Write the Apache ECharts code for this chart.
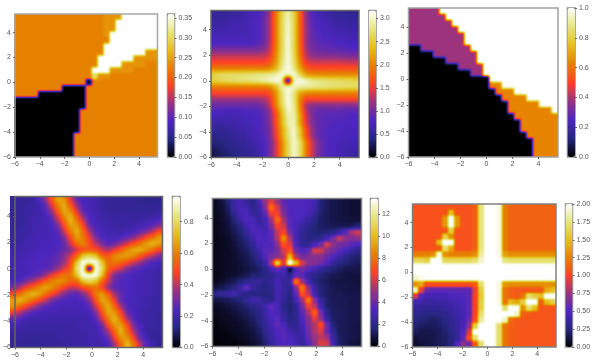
<!DOCTYPE html>
<html>
<head>
<meta charset="utf-8">
<script src="https://cdn.jsdelivr.net/npm/echarts@6/dist/echarts.min.js"></script>
<style>
  html, body { margin: 0; background: #fff; }
  #axes { position: absolute; left: 0; top: 0; width: 600px; height: 364px; }
  .heat { position: absolute; }
</style>
</head>
<body>
<svg width="0" height="0" style="position:absolute" id="filters"></svg>
<div id="axes"></div>
<script>
// rows run top to bottom (y = 5.5 ... -6), columns left to right (x = -6 ... 5.5)
const grid1 = [
  [.226,.226,.226,.226,.226,.226,.226,.226,.226,.226,.226,.226,.226,.226,.226,.238,.238,.238,.36,.36,.36,.36,.36,.36],
  [.226,.226,.226,.226,.226,.226,.226,.226,.226,.226,.226,.226,.226,.226,.226,.238,.238,.36,.36,.36,.36,.36,.36,.36],
  [.226,.226,.226,.226,.226,.226,.226,.226,.226,.226,.226,.226,.226,.226,.226,.238,.238,.36,.36,.36,.36,.36,.36,.36],
  [.226,.226,.226,.226,.226,.226,.226,.226,.226,.226,.226,.226,.226,.226,.226,.238,.36,.36,.36,.36,.36,.36,.36,.36],
  [.226,.226,.226,.226,.226,.226,.226,.226,.226,.226,.226,.226,.226,.226,.226,.226,.36,.36,.36,.36,.36,.36,.36,.36],
  [.226,.226,.226,.226,.226,.226,.226,.226,.226,.226,.226,.226,.226,.226,.226,.36,.36,.36,.36,.36,.36,.36,.36,.36],
  [.226,.226,.226,.226,.226,.226,.226,.226,.226,.226,.226,.226,.226,.226,.226,.36,.36,.36,.36,.36,.36,.36,.238,.238],
  [.226,.226,.226,.226,.226,.226,.226,.226,.226,.226,.226,.226,.226,.226,.36,.36,.36,.36,.36,.36,.238,.238,.238,.238],
  [.226,.226,.226,.226,.226,.226,.226,.226,.226,.226,.226,.226,.226,.226,.36,.36,.36,.36,.238,.238,.238,.238,.226,.226],
  [.226,.226,.226,.226,.226,.226,.226,.226,.226,.226,.226,.226,.226,.36,.36,.36,.238,.238,.238,.238,.226,.226,.226,.226],
  [.226,.226,.226,.226,.226,.226,.226,.226,.226,.226,.226,.226,.226,.3,.238,.238,.226,.226,.226,.226,.226,.226,.226,.226],
  [.226,.226,.226,.226,.226,.226,.226,.226,.226,.226,.226,.226,0,.226,.226,.226,.226,.226,.226,.226,.226,.226,.226,.226],
  [.226,.226,.226,.226,.226,.226,.226,.226,0,0,0,0,.226,.226,.226,.226,.226,.226,.226,.226,.226,.226,.226,.226],
  [.226,.226,.226,.226,0,0,0,0,0,0,0,0,.226,.226,.226,.226,.226,.226,.226,.226,.226,.226,.226,.226],
  [0,0,0,0,0,0,0,0,0,0,0,0,.226,.226,.226,.226,.226,.226,.226,.226,.226,.226,.226,.226],
  [0,0,0,0,0,0,0,0,0,0,0,0,.226,.226,.226,.226,.226,.226,.226,.226,.226,.226,.226,.226],
  [0,0,0,0,0,0,0,0,0,0,0,.226,.226,.226,.226,.226,.226,.226,.226,.226,.226,.226,.226,.226],
  [0,0,0,0,0,0,0,0,0,0,0,.226,.226,.226,.226,.226,.226,.226,.226,.226,.226,.226,.226,.226],
  [0,0,0,0,0,0,0,0,0,0,0,.226,.226,.226,.226,.226,.226,.226,.226,.226,.226,.226,.226,.226],
  [0,0,0,0,0,0,0,0,0,0,0,.226,.226,.226,.226,.226,.226,.226,.226,.226,.226,.226,.226,.226],
  [0,0,0,0,0,0,0,0,0,0,.226,.226,.226,.226,.226,.226,.226,.226,.226,.226,.226,.226,.226,.226],
  [0,0,0,0,0,0,0,0,0,0,.226,.226,.226,.226,.226,.226,.226,.226,.226,.226,.226,.226,.226,.226],
  [0,0,0,0,0,0,0,0,0,0,.226,.226,.226,.226,.226,.226,.226,.226,.226,.226,.226,.226,.226,.226],
  [0,0,0,0,0,0,0,0,0,0,.226,.226,.226,.226,.226,.226,.226,.226,.226,.226,.226,.226,.226,.226]
];
const grid2 = [
  [.55,.55,.55,.6,.6,.65,.7,.75,.85,1.15,1.9,2.55,2.95,2.55,1.8,1.1,.8,.7,.65,.6,.55,.55,.5,.5],
  [.6,.6,.6,.65,.65,.7,.75,.8,.9,1.2,1.9,2.6,3,2.6,1.8,1.1,.85,.75,.7,.65,.6,.6,.55,.55],
  [.65,.65,.65,.7,.7,.7,.75,.8,.9,1.2,1.9,2.6,3.05,2.6,1.8,1.15,.85,.8,.75,.7,.65,.65,.6,.6],
  [.7,.7,.7,.7,.7,.7,.75,.8,.9,1.2,1.9,2.6,3.05,2.6,1.8,1.15,.9,.8,.75,.75,.7,.7,.65,.65],
  [.75,.75,.75,.75,.75,.75,.75,.8,.9,1.2,1.9,2.6,3.1,2.6,1.8,1.15,.9,.85,.8,.8,.75,.75,.7,.7],
  [.8,.8,.8,.8,.8,.8,.8,.85,.95,1.25,1.9,2.6,3.1,2.6,1.8,1.15,.95,.9,.85,.85,.8,.8,.75,.75],
  [1.05,1.05,1.05,1.05,1.05,1.05,1.05,1.05,1.1,1.3,1.95,2.6,3.1,2.6,1.85,1.2,1,.95,.95,.9,.9,.9,.85,.85],
  [1.35,1.35,1.35,1.35,1.35,1.35,1.35,1.35,1.35,1.5,2,2.65,3.1,2.65,1.9,1.3,1.15,1.1,1.1,1.1,1.1,1.05,1.05,1.05],
  [1.6,1.6,1.6,1.6,1.6,1.6,1.6,1.6,1.6,1.7,2.1,2.7,3.1,2.7,2,1.5,1.4,1.4,1.4,1.4,1.4,1.4,1.35,1.35],
  [1.95,1.95,1.95,1.95,1.95,1.95,1.95,1.95,1.95,2,2.3,2.8,3.15,2.8,2.2,1.75,1.65,1.65,1.65,1.65,1.65,1.65,1.65,1.65],
  [2.6,2.65,2.7,2.7,2.7,2.75,2.75,2.8,2.8,2.85,2.9,3.1,3,3.1,2.6,2.15,2.05,2.05,2.05,2.05,2.05,2.05,2.05,2.05],
  [2.55,2.6,2.65,2.7,2.75,2.75,2.8,2.85,2.9,3,3.15,3,0,3,3.15,3,2.85,2.8,2.75,2.7,2.7,2.65,2.65,2.6],
  [1.95,1.95,1.95,1.95,1.95,1.95,1.95,1.95,1.95,2,2.3,2.9,3.1,3,2.9,2.9,2.85,2.8,2.8,2.75,2.75,2.7,2.7,2.7],
  [1.6,1.6,1.6,1.6,1.6,1.6,1.6,1.6,1.6,1.65,2.05,2.7,3.1,2.75,2.2,2.05,2,2,2,2,2,2,2,2],
  [1.2,1.2,1.2,1.2,1.2,1.2,1.2,1.2,1.25,1.4,2,2.65,3.1,2.8,2,1.6,1.6,1.6,1.6,1.6,1.6,1.6,1.6,1.6],
  [.95,.95,.95,.95,.95,.95,.95,.95,1.05,1.3,1.95,2.6,3.1,2.85,2,1.2,1.1,1.1,1.1,1.1,1.1,1.1,1.1,1.1],
  [.8,.8,.75,.75,.75,.8,.8,.8,.9,1.1,1.7,2.4,3,2.9,2.1,1.3,1,.9,.9,.9,.9,.85,.85,.85],
  [.7,.7,.7,.7,.7,.75,.75,.8,.85,1.05,1.6,2.3,2.9,2.95,2.2,1.4,1.05,.9,.85,.85,.85,.85,.8,.8],
  [.65,.6,.65,.65,.7,.7,.75,.8,.85,1.05,1.6,2.3,2.9,2.95,2.2,1.4,1.05,.9,.85,.85,.8,.8,.8,.8],
  [.55,.55,.55,.6,.65,.65,.7,.75,.85,1,1.5,2.15,2.75,3.05,2.45,1.65,1.15,.9,.85,.8,.8,.8,.75,.75],
  [.45,.5,.5,.55,.6,.6,.7,.75,.8,1,1.5,2.15,2.75,3.05,2.45,1.65,1.15,.9,.85,.8,.8,.75,.75,.75],
  [.4,.4,.45,.5,.55,.55,.65,.7,.8,.95,1.35,2,2.6,3.05,2.7,1.95,1.35,1,.85,.8,.75,.75,.7,.7],
  [.3,.35,.4,.45,.5,.55,.6,.65,.75,.95,1.35,2,2.6,3.05,2.7,1.95,1.35,1,.85,.8,.75,.7,.7,.65],
  [.25,.3,.35,.4,.45,.5,.55,.6,.75,.95,1.35,2,2.6,3.05,2.7,1.95,1.35,1,.85,.8,.75,.7,.65,.6]
];
const grid3 = [
  [.38,.38,.38,.38,.38,1,1,1,1,1,1,1,1,1,1,1,1,1,1,1,1,1,1,1],
  [.38,.38,.38,.38,.38,.38,1,1,1,1,1,1,1,1,1,1,1,1,1,1,1,1,1,1],
  [.38,.38,.38,.38,.38,.38,.38,1,1,1,1,1,1,1,1,1,1,1,1,1,1,1,1,1],
  [.38,.38,.38,.38,.38,.38,.38,.38,1,1,1,1,1,1,1,1,1,1,1,1,1,1,1,1],
  [.38,.38,.38,.38,.38,.38,.38,.38,.38,1,1,1,1,1,1,1,1,1,1,1,1,1,1,1],
  [.38,.38,.38,.38,.38,.38,.38,.38,.38,1,1,1,1,1,1,1,1,1,1,1,1,1,1,1],
  [0,0,.38,.38,.38,.38,.38,.38,.38,.38,1,1,1,1,1,1,1,1,1,1,1,1,1,1],
  [0,0,0,0,.38,.38,.38,.38,.38,.38,.38,1,1,1,1,1,1,1,1,1,1,1,1,1],
  [0,0,0,0,0,0,.38,.38,.38,.38,.38,1,1,1,1,1,1,1,1,1,1,1,1,1],
  [0,0,0,0,0,0,0,0,.38,.38,.38,.38,1,1,1,1,1,1,1,1,1,1,1,1],
  [0,0,0,0,0,0,0,0,0,0,.38,.38,1,1,1,1,1,1,1,1,1,1,1,1],
  [0,0,0,0,0,0,0,0,0,0,0,0,0,1,1,1,1,1,1,1,1,1,1,1],
  [0,0,0,0,0,0,0,0,0,0,0,0,0,.63,.63,1,1,1,1,1,1,1,1,1],
  [0,0,0,0,0,0,0,0,0,0,0,0,0,0,.63,.63,.63,1,1,1,1,1,1,1],
  [0,0,0,0,0,0,0,0,0,0,0,0,0,0,0,.63,.63,.63,.63,1,1,1,1,1],
  [0,0,0,0,0,0,0,0,0,0,0,0,0,0,0,0,.63,.63,.63,.63,.63,1,1,1],
  [0,0,0,0,0,0,0,0,0,0,0,0,0,0,0,0,.63,.63,.63,.63,.63,.63,.63,1],
  [0,0,0,0,0,0,0,0,0,0,0,0,0,0,0,0,0,.63,.63,.63,.63,.63,.63,.63],
  [0,0,0,0,0,0,0,0,0,0,0,0,0,0,0,0,0,0,.63,.63,.63,.63,.63,.63],
  [0,0,0,0,0,0,0,0,0,0,0,0,0,0,0,0,0,0,.63,.63,.63,.63,.63,.63],
  [0,0,0,0,0,0,0,0,0,0,0,0,0,0,0,0,0,0,0,.63,.63,.63,.63,.63],
  [0,0,0,0,0,0,0,0,0,0,0,0,0,0,0,0,0,0,0,0,.63,.63,.63,.63],
  [0,0,0,0,0,0,0,0,0,0,0,0,0,0,0,0,0,0,0,0,.63,.63,.63,.63],
  [0,0,0,0,0,0,0,0,0,0,0,0,0,0,0,0,0,0,0,0,.63,.63,.63,.63]
];
const grid4 = [
  [.17,.17,.17,.18,.23,.33,.52,.68,.64,.45,.27,.23,.22,.2,.18,.17,.16,.16,.16,.16,.15,.15,.15,.15],
  [.17,.17,.18,.19,.2,.26,.42,.6,.7,.54,.36,.24,.22,.2,.18,.17,.17,.16,.16,.16,.16,.16,.16,.16],
  [.17,.17,.18,.19,.2,.23,.33,.52,.68,.64,.45,.27,.23,.21,.19,.18,.17,.17,.17,.17,.17,.17,.17,.18],
  [.17,.17,.18,.2,.2,.22,.26,.42,.6,.72,.56,.38,.24,.21,.2,.19,.18,.18,.18,.18,.18,.19,.2,.23],
  [.17,.17,.19,.2,.21,.22,.23,.32,.5,.68,.64,.48,.28,.23,.21,.2,.19,.19,.19,.2,.21,.23,.25,.3],
  [.17,.18,.19,.2,.21,.22,.23,.26,.42,.6,.7,.56,.38,.25,.22,.21,.2,.2,.21,.22,.26,.3,.38,.48],
  [.18,.18,.2,.21,.22,.22,.23,.24,.32,.5,.66,.6,.46,.3,.24,.22,.22,.23,.27,.32,.4,.48,.56,.66],
  [.18,.19,.2,.21,.22,.23,.23,.24,.27,.42,.58,.62,.5,.4,.3,.25,.28,.35,.42,.5,.58,.66,.72,.66],
  [.2,.2,.21,.22,.23,.23,.24,.25,.28,.33,.42,.5,.52,.5,.42,.38,.46,.53,.62,.68,.7,.64,.56,.48],
  [.2,.21,.22,.23,.24,.24,.25,.27,.33,.42,.55,.74,.8,.74,.55,.53,.62,.66,.66,.62,.53,.44,.38,.3],
  [.21,.22,.23,.24,.24,.25,.26,.28,.35,.48,.74,.96,.96,.96,.74,.55,.6,.56,.5,.42,.36,.28,.25,.22],
  [.21,.22,.23,.24,.25,.25,.27,.35,.44,.52,.82,.96,0,.96,.82,.55,.48,.42,.32,.27,.25,.22,.21,.2],
  [.2,.21,.23,.25,.27,.35,.44,.52,.58,.58,.74,.96,.96,.96,.74,.45,.31,.26,.24,.23,.22,.21,.2,.19],
  [.23,.25,.3,.37,.44,.53,.6,.64,.62,.55,.55,.74,.8,.74,.55,.42,.28,.25,.24,.23,.22,.21,.2,.19],
  [.31,.38,.48,.54,.62,.68,.64,.56,.48,.42,.42,.5,.54,.58,.48,.33,.26,.24,.24,.23,.22,.21,.2,.19],
  [.5,.56,.66,.72,.68,.58,.5,.42,.32,.27,.25,.33,.42,.6,.66,.53,.36,.27,.24,.23,.22,.21,.2,.19],
  [.66,.72,.66,.58,.5,.42,.32,.26,.24,.23,.23,.24,.33,.52,.68,.62,.45,.27,.23,.22,.21,.2,.19,.18],
  [.64,.56,.48,.4,.32,.26,.24,.23,.22,.22,.22,.23,.26,.42,.6,.7,.54,.36,.24,.22,.21,.2,.19,.18],
  [.46,.38,.3,.25,.23,.22,.22,.21,.21,.21,.21,.21,.22,.32,.5,.68,.64,.48,.28,.23,.2,.19,.18,.18],
  [.28,.25,.21,.2,.2,.2,.2,.2,.2,.2,.2,.2,.21,.25,.42,.6,.72,.56,.38,.25,.2,.19,.18,.17],
  [.21,.2,.19,.19,.19,.19,.19,.19,.19,.19,.2,.2,.2,.22,.3,.5,.66,.66,.5,.3,.23,.19,.18,.17],
  [.19,.19,.18,.18,.18,.18,.18,.18,.19,.19,.19,.2,.2,.21,.25,.38,.56,.72,.56,.38,.25,.19,.17,.17],
  [.18,.17,.17,.17,.17,.17,.17,.18,.18,.19,.19,.19,.2,.2,.22,.28,.48,.64,.64,.48,.28,.22,.17,.16],
  [.17,.16,.16,.16,.16,.17,.17,.17,.18,.18,.19,.19,.2,.2,.21,.23,.37,.56,.72,.58,.4,.25,.2,.16]
];
const grid5 = [
  [.5,.8,1.5,2.6,3,2.4,1.8,3,5,6.2,5,3.8,3.4,3.4,3.4,3.2,3,1.6,1.2,1,.9,.8,.7,.7],
  [.5,.7,1.3,2.6,3.2,3,2,2.6,4.4,8,6,4,3.4,3.4,3.4,3.2,2.8,1.5,1.2,1,.9,.8,.7,.7],
  [.4,.6,1.1,2,3,3.3,2.6,2.4,3.6,6.4,6.6,4.4,3.4,3.4,3.3,3.1,2.4,1.4,1.1,1,.9,.8,.7,.7],
  [.4,.6,.9,1.5,2.6,3.3,3.2,2.4,3,5,8,5.2,3.6,3.3,3.1,2.6,1.9,1.3,1.1,1,.9,.9,.8,.8],
  [.3,.5,.8,1.3,1.8,3,3.3,2.8,2.8,4.4,6.6,6,3.6,3.1,2.6,2,1.6,1.3,1.2,1.1,1.1,1.1,1.2,1.6],
  [.3,.5,.7,1.1,1.5,2.2,3.2,3.3,3,3.6,5.8,6.8,4.2,3,2.2,1.8,1.6,1.5,1.6,1.8,2.6,3.6,5.4,6],
  [.3,.4,.6,.9,1.3,1.8,2.8,3.4,3.2,3.6,5.4,9,5.4,3,2.1,1.8,1.8,2,3,4.2,5.8,4.8,4.4,4.8],
  [.3,.4,.5,.8,1.1,1.5,2.2,3.2,3.4,3.4,4.6,7.2,6.2,3.2,2.2,2.2,3,4.2,6.2,4.8,4.2,4,3.6,3.2],
  [.3,.4,.5,.7,1,1.3,1.7,2.6,3.6,3.6,4.2,6,7.2,4,3.4,3.8,6.2,6,4.6,4.2,3.6,3.2,2.4,2],
  [.3,.4,.5,.6,.9,1.1,1.5,2.2,3.4,4.2,4.6,5.4,10,5.4,4.2,4.4,4.6,4.6,4,3.4,2.6,2,1.6,1.4],
  [.3,.4,.5,.6,.8,1,1.3,1.7,2.6,5.2,11,6,13.4,10,6,4.6,4.6,4.2,3.4,2.4,1.8,1.5,1.3,1.2],
  [.3,.4,.5,.6,.7,.9,1.1,1.4,1.9,3,3.8,3.4,.6,3.4,4.2,3.6,3,2.3,1.8,1.5,1.3,1.1,1,1],
  [.3,.4,.6,.7,.9,1.1,1.5,1.6,1.8,2,2.6,2.8,2,3.6,3.6,2.4,2,1.6,1.3,1.1,1,.9,.8,.8],
  [.4,.6,.9,1.2,1.6,2,2.2,2.4,2,2.2,3.2,2.4,2.6,8.2,5,3,1.8,1.4,1.2,1,.9,.9,.9,.8],
  [.9,1.1,1.4,1.8,2.6,4,2.6,2,1.8,2,3,2.6,2,4.6,8.4,4.8,2.6,1.6,1.3,1.1,1,1,.9,.9],
  [2,2.2,2.4,3,2.2,1.8,1.8,1.8,1.7,1.8,3,2.4,1.8,3.6,7.2,5.6,2.8,1.6,1.3,1.1,1.1,1,1,1],
  [.9,1,1.2,1.4,1.6,2.2,2.8,2.8,2,1.9,3,2.4,1.6,3,5,8.4,4.6,2.4,1.4,1.2,1.1,1.1,1,1],
  [.5,.6,.8,1,1.2,1.5,1.9,2.2,2.8,3.8,3.2,2,1.5,2.1,4.2,6.6,5.6,2.8,1.4,1.2,1.1,1.1,1,1],
  [.4,.5,.6,.8,1,1.2,1.5,1.9,2.6,3.4,3.2,2.2,1.6,2.1,3.6,5.4,7.6,4.2,1.8,1.3,1.2,1.1,1,1],
  [.3,.4,.5,.6,.8,1,1.3,1.7,2.4,3.2,3.6,2.6,1.8,2.1,3.4,4.6,6.4,4.8,2.4,1.3,1.2,1.1,1,1],
  [.2,.3,.4,.5,.6,.8,1.1,1.5,2.2,3,3.8,3.2,2.2,2.2,3,4.4,5.4,7,4,1.6,1.2,1.1,1,.9],
  [.2,.2,.3,.4,.5,.7,.9,1.3,2,2.8,3.4,3.6,2.8,2.4,2.8,4.2,5.4,6.2,4,2,1.2,1.1,1,.9],
  [.1,.2,.2,.3,.4,.5,.8,1.1,1.7,2.6,3.2,3.6,3.2,2.8,2.6,4,5,5.6,5,2.4,1.3,1.1,1,.9],
  [.1,.1,.2,.2,.3,.4,.6,.9,1.4,2.4,3,3.4,3.4,3,2.4,3.4,4.8,6.2,6,2.8,1.4,1.1,.9,.8]
];
const grid6 = [
  [1.07,1.07,1.07,1.07,1.07,1.07,1.07,1.07,1.07,1.07,1.12,1.75,2,2,1.95,1.25,1.14,1.14,1.14,1.14,1.14,1.14,1.14,1.14],
  [1.07,1.07,1.07,1.07,1.07,1.07,1.5,1.07,1.07,1.07,1.12,1.75,2,2,1.95,1.25,1.14,1.14,1.14,1.14,1.14,1.14,1.14,1.14],
  [1.07,1.07,1.07,1.07,1.07,1.35,2,1.35,1.07,1.07,1.12,1.75,2,2,1.95,1.25,1.14,1.14,1.14,1.14,1.14,1.14,1.14,1.14],
  [1.07,1.07,1.07,1.07,1.07,1.35,2,1.35,1.07,1.07,1.12,1.75,2,2,1.95,1.25,1.14,1.14,1.14,1.14,1.14,1.14,1.14,1.14],
  [1.07,1.07,1.07,1.07,1.07,1.07,1.6,1.07,1.07,1.07,1.12,1.75,2,2,1.95,1.25,1.14,1.14,1.14,1.14,1.14,1.14,1.14,1.14],
  [1.07,1.07,1.07,1.07,1.07,1.6,1.3,1.07,1.07,1.07,1.12,1.75,2,2,1.95,1.25,1.14,1.14,1.14,1.14,1.14,1.14,1.14,1.14],
  [1.07,1.07,1.07,1.07,1.5,2,2,1.07,1.07,1.07,1.12,1.75,2,2,1.95,1.25,1.14,1.14,1.14,1.14,1.14,1.14,1.14,1.14],
  [1.07,1.07,1.07,1.07,1.07,1.7,1.4,1.07,1.07,1.07,1.14,1.75,2,2,1.95,1.25,1.14,1.14,1.14,1.14,1.14,1.14,1.14,1.14],
  [1.25,1.25,1.25,1.3,1.95,1.3,1.25,1.25,1.25,1.25,1.3,1.8,2,2,1.95,1.38,1.3,1.3,1.3,1.3,1.3,1.3,1.3,1.3],
  [1.65,1.65,1.6,2,2,1.65,1.65,1.65,1.65,1.65,1.7,1.9,2,2,2,1.75,1.7,1.7,1.7,1.7,1.7,1.7,1.7,1.7],
  [2,2,2,2,2,2,2,2,2,2,2,2,2,2,2,2,2,2,2,2,2,2,2,2],
  [2,2,2,2,2,2,2,2,2,2,2,2,2,2,2,2,2,2,2,2,2,2,2,2],
  [1.9,1.95,2,2,2,2,2,2,2,2,2,2,2,2,2,2,2,2,2,2,2,2,2,2],
  [1.3,1.4,1.05,1.05,1.05,1.05,1.05,1.05,1.05,1.05,1.1,1.7,2,2,1.95,1.35,1.3,1.3,1.3,1.3,1.3,1.3,1.3,1.3],
  [1.9,.95,.6,.55,.55,.55,.55,.55,.55,.55,.95,1.6,2,2,1.95,1.2,1.12,1.1,1.08,1.08,1.08,1.08,1.4,1.5],
  [.9,.55,.45,.45,.45,.45,.5,.5,.5,.55,1,1.55,2,2,1.95,1.2,1.12,1.1,1.2,1.7,1.6,1.5,2,2],
  [.45,.4,.38,.38,.4,.4,.42,.45,.48,.55,1,1.6,2,2,1.95,1.2,1.5,1.4,1.6,2,2,1.1,1.5,1.6],
  [.35,.33,.32,.32,.33,.35,.38,.42,.46,.55,1,1.6,2,2,2,1.7,2,2,1.3,1.7,1.5,1.08,1.08,1.08],
  [.3,.28,.26,.26,.28,.3,.35,.4,.45,.55,1,1.7,2,2,2,2,2,1.9,1.12,1.1,1.08,1.08,1.08,1.08],
  [.26,.24,.22,.2,.22,.26,.32,.38,.45,.6,1.05,1.8,2,2,2,1.9,1.15,1.1,1.08,1.08,1.08,1.08,1.08,1.08],
  [.22,.2,.18,.18,.2,.24,.3,.36,.45,.7,1.6,2,2,2,1.7,1.2,1.12,1.1,1.08,1.08,1.08,1.08,1.08,1.08],
  [.18,.16,.15,.16,.18,.22,.28,.35,.5,.9,2,2,2,2,1.7,1.2,1.12,1.1,1.08,1.08,1.08,1.08,1.08,1.08],
  [.12,.13,.14,.15,.18,.2,.26,.34,.55,1.05,1.7,2,2,2,1.7,1.2,1.12,1.1,1.08,1.08,1.08,1.08,1.08,1.08],
  [.1,.12,.13,.15,.17,.2,.25,.5,.7,.6,1.1,1.7,2,2,1.7,1.2,1.12,1.1,1.08,1.08,1.08,1.08,1.08,1.08]
];
const grids = [grid1, grid2, grid3, grid4, grid5, grid6];
const vmax = [0.36, 3.17, 1, 0.96, 13.4, 2];

const xTicks = [-6, -4, -2, 0, 2, 4];
const yTicks = [-6, -4, -2, 0, 2, 4];
const barTicks = [
  [0, .05, .1, .15, .2, .25, .3, .35],
  [0, .5, 1, 1.5, 2, 2.5, 3],
  [0, .2, .4, .6, .8, 1],
  [0, .2, .4, .6, .8],
  [0, 2, 4, 6, 8, 10, 12],
  [0, .25, .5, .75, 1, 1.25, 1.5, 1.75, 2]
];
const barDigits = [2, 1, 1, 1, 0, 2];

// plot left, top, right, bottom, colour bar left, colour bar right, frame colour
const boxes = [
  [14.5, 14, 157.5, 157, 167.5, 174.5, '#a6a6a6'],
  [211, 10.5, 359, 157.5, 369, 376, '#666666'],
  [408.5, 8, 558, 157, 567.5, 575, '#a0a0a0'],
  [10.5, 196.5, 162.5, 347.5, 172.5, 180, '#666666'],
  [212.5, 198.5, 361.5, 346.5, 370.5, 378, '#808080'],
  [412.5, 204, 556, 347, 565.5, 572.5, '#808080']
];
// softness of each panel's image, px
const softness = [1.3, 1.9, 1.3, 1.9, 1.6, 1.3];

// CMRmap
const cmrStops = ['#000000', '#262680', '#4d26bf', '#993380', '#ff4026', '#e68000', '#e6bf1a', '#e6e680', '#ffffff'];
const table = k => cmrStops.map(c => (parseInt(c.substr(1 + k * 2, 2), 16) / 255).toFixed(3)).join(' ');
document.getElementById('filters').innerHTML = softness.map((s, i) =>
  `<filter id="cm${i}" color-interpolation-filters="sRGB" x="0" y="0" width="100%" height="100%">
     <feGaussianBlur stdDeviation="${s}"/>
     <feComponentTransfer>
       <feFuncR type="table" tableValues="${table(0)}"/>
       <feFuncG type="table" tableValues="${table(1)}"/>
       <feFuncB type="table" tableValues="${table(2)}"/>
     </feComponentTransfer>
   </filter>`).join('');

const cells = 24;
const pad = 3; // repeated cells round the image, so the blur does not fade at the frame
const axes = { animation: false, grid: [], xAxis: [], yAxis: [], visualMap: [] };
const axisFont = { fontFamily: 'Liberation Sans', fontSize: 7, color: '#555', margin: 4 };

boxes.forEach((b, i) => {
  const w = b[2] - b[0], h = b[3] - b[1];
  const cw = w / cells, ch = h / cells;

  const dl = Math.floor(b[0] - pad * cw), dt = Math.floor(b[1] - pad * ch);
  const dw = Math.ceil(b[2] + pad * cw) - dl, dh = Math.ceil(b[3] + pad * ch) - dt;
  const div = document.createElement('div');
  div.className = 'heat';
  div.style.cssText = `left:${dl}px;top:${dt}px;width:${dw}px;height:${dh}px;filter:url(#cm${i});` +
    `clip-path:inset(${b[1] - dt}px ${dl + dw - b[2]}px ${dt + dh - b[3]}px ${b[0] - dl}px)`;
  document.body.insertBefore(div, document.getElementById('axes'));

  const cats = [];
  for (let k = 0; k < cells + 2 * pad; k++) cats.push(k);
  const data = [];
  cats.forEach(r => cats.forEach(c => {
    const rr = Math.min(cells - 1, Math.max(0, r - pad));
    const cc = Math.min(cells - 1, Math.max(0, c - pad));
    data.push([c, r, grids[i][rr][cc]]);
  }));
  // drawn three times over: one pass leaves pale antialiased seams between the cells
  const layer = { type: 'heatmap', data: data, silent: true, progressive: 0 };
  echarts.init(div).setOption({
    animation: false,
    backgroundColor: '#fff',
    grid: { left: b[0] - dl - pad * cw, top: b[1] - dt - pad * ch, width: w + 2 * pad * cw, height: h + 2 * pad * ch },
    xAxis: { type: 'category', data: cats, show: false },
    yAxis: { type: 'category', data: cats, show: false, inverse: true },
    visualMap: { type: 'continuous', show: false, min: 0, max: vmax[i], inRange: { color: ['#000000', '#ffffff'] } },
    series: [layer, layer, layer]
  });

  // axes, frame and colour bar sit on top, unblurred
  const tick = { show: true, length: 2, lineStyle: { color: '#666', width: 1 } };
  const line = { show: false, onZero: false };
  const signed = v => String(v).replace('-', '\u2212');
  axes.grid.push({ left: b[0], top: b[1], width: w, height: h, show: true, borderColor: b[6], borderWidth: 1.5, backgroundColor: 'transparent' });
  axes.xAxis.push({ type: 'value', gridIndex: axes.grid.length - 1, min: -6, max: 5.5, splitLine: { show: false }, axisLine: line,
    axisTick: Object.assign({ customValues: xTicks }, tick),
    axisLabel: Object.assign({ customValues: xTicks, formatter: signed }, axisFont) });
  axes.yAxis.push({ type: 'value', gridIndex: axes.grid.length - 1, min: -6, max: 5.5, splitLine: { show: false }, axisLine: line,
    axisTick: Object.assign({ customValues: yTicks }, tick),
    axisLabel: Object.assign({ customValues: yTicks, formatter: signed }, axisFont) });

  axes.visualMap.push({ type: 'continuous', seriesIndex: [], min: 0, max: vmax[i], left: b[4], top: b[1], itemWidth: b[5] - b[4], itemHeight: h,
    padding: 0, calculable: false, hoverLink: false, inRange: { color: cmrStops } });
  axes.grid.push({ left: b[4], top: b[1], width: b[5] - b[4], height: h, show: true, borderColor: '#8c8c8c', borderWidth: 1.5, backgroundColor: 'transparent' });
  axes.xAxis.push({ type: 'value', gridIndex: axes.grid.length - 1, show: false, min: 0, max: 1 });
  axes.yAxis.push({ type: 'value', gridIndex: axes.grid.length - 1, position: 'right', min: 0, max: vmax[i], splitLine: { show: false }, axisLine: line,
    axisTick: Object.assign({ customValues: barTicks[i] }, tick),
    axisLabel: Object.assign({ customValues: barTicks[i], formatter: v => v.toFixed(barDigits[i]) }, axisFont) });
});

echarts.init(document.getElementById('axes')).setOption(axes);
</script>
</body>
</html>
